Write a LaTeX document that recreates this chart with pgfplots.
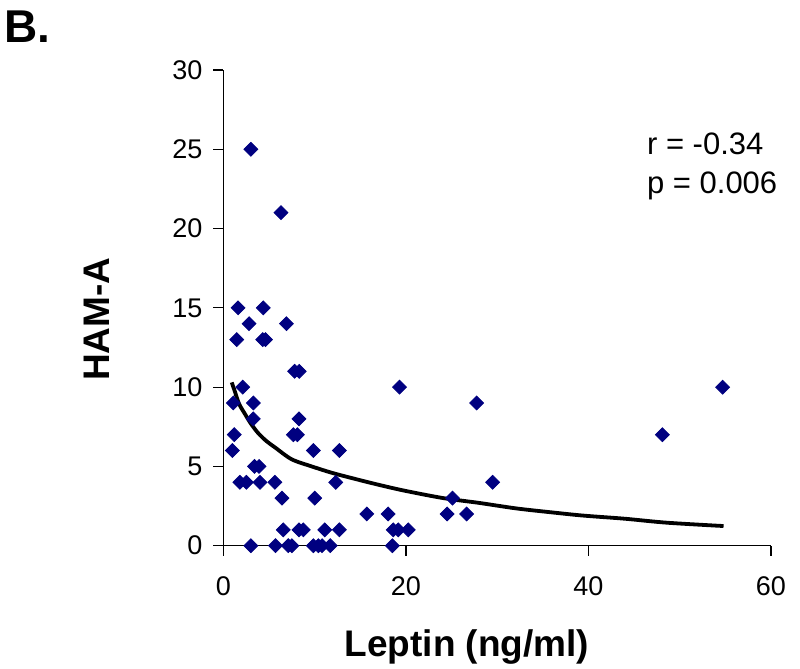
\documentclass[border=0pt]{standalone}
\usepackage{pgfplots}
\pgfplotsset{compat=1.18}
\usepackage{fontspec}
\setmainfont{Liberation Sans}
\definecolor{navy}{HTML}{000080}
\begin{document}
\begin{tikzpicture}
\begin{axis}[
  at={(0,0)}, anchor=south west,
  scale only axis,
  width=273.75bp, height=237.85bp,
  xmin=0, xmax=60, ymin=0, ymax=30,
  axis lines=left,
  axis line style={-, line width=0.7bp},
  xtick={0,20,40,60}, ytick={0,5,10,15,20,25,30},
  tick align=outside,
  major tick length=5bp,
  tick style={line width=0.6bp, black},
  /pgf/number format/assume math mode=true,
  ticklabel style={font=\fontsize{13.5bp}{16bp}\selectfont},
  xticklabel style={yshift=-7bp},
  yticklabel style={xshift=-2bp},
  clip=false,
]
\addplot[only marks, mark=square*, mark size=2.45bp, mark options={rotate=45, fill=navy, draw=navy}]
coordinates {
(3,25) (6.3,21) (1.6,15) (4.36,15) (2.8,14) (6.9,14)
(1.45,13) (4.3,13) (4.6,13) (7.8,11) (8.3,11)
(2.1,10) (19.3,10) (54.7,10)
(1.07,9) (3.27,9) (27.75,9)
(3.27,8) (8.27,8)
(1.18,7) (7.65,7) (8.1,7) (48.1,7)
(0.97,6) (9.85,6) (12.7,6)
(3.4,5) (3.9,5)
(1.8,4) (2.5,4) (4.0,4) (5.64,4) (12.3,4) (29.5,4)
(6.4,3) (10.0,3) (25.1,3)
(15.7,2) (18.05,2) (24.5,2) (26.65,2)
(6.55,1) (8.27,1) (8.75,1) (11.1,1) (12.7,1) (18.6,1) (19.15,1) (20.25,1)
(3.0,0) (5.7,0) (7.1,0) (7.5,0) (9.85,0) (10.4,0) (10.8,0) (11.7,0) (18.5,0)
};
\addplot[black, line width=1.9bp, smooth, no marks]
coordinates {
(0.9,10.3) (1.26,9.7) (1.7,8.95) (2.36,8.3) (3.0,7.7) (3.8,7.1) (4.7,6.6)
(5.64,6.2) (7.47,5.45) (9.67,5.0) (11.86,4.6) (14.5,4.2) (17.3,3.8) (20,3.45)
(24.1,3.0) (28,2.7) (32.1,2.35) (36,2.1) (39.4,1.9) (44,1.7) (48.6,1.45) (54.8,1.24)
};
\end{axis}
\node[anchor=base, font=\fontsize{18.5bp}{22bp}\selectfont\bfseries] at (121.75bp,-55.5bp) {Leptin (ng/ml)};
\node[anchor=base, rotate=90, font=\fontsize{18.5bp}{22bp}\selectfont\bfseries] at (-56.75bp,113.3bp) {HAM-A};
\node[anchor=base west, font=\fontsize{23bp}{27bp}\selectfont\bfseries, inner sep=0pt] at (-109.75bp,251.5bp) {B.};
\node[anchor=base west, font=\fontsize{15.5bp}{18bp}\selectfont, inner sep=0pt] at (211.6bp,195.35bp) {r = -0.34};
\node[anchor=base west, font=\fontsize{15.5bp}{18bp}\selectfont, inner sep=0pt] at (211.6bp,176.2bp) {p = 0.006};
\pgfresetboundingbox
\path[use as bounding box] (-111.75bp,-61.65bp) rectangle (288.25bp,272.85bp);
\end{tikzpicture}
\end{document}
